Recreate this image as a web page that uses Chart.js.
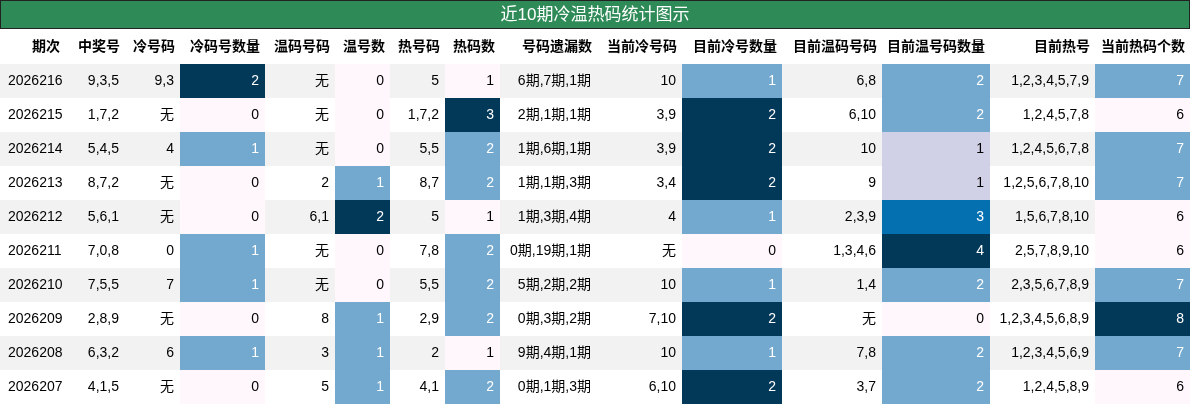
<!DOCTYPE html>
<html>
<head>
<meta charset="utf-8">
<script src="https://cdn.jsdelivr.net/npm/chart.js@4"></script>
<style>
  html, body { margin: 0; padding: 0; background: #fff; }
</style>
</head>
<body>
<canvas id="tbl" width="1192" height="405"></canvas>
<script>
// Table data, one array per column
const title = '近10期冷温热码统计图示';
const headers = ['期次', '中奖号', '冷号码', '冷码号数量', '温码号码', '温号数', '热号码', '热码数', '号码遗漏数', '当前冷号码', '目前冷号数量', '目前温码号码', '目前温号码数量', '目前热号', '当前热码个数'];
const periods = ['2026216', '2026215', '2026214', '2026213', '2026212', '2026211', '2026210', '2026209', '2026208', '2026207'];
const winning = ['9,3,5', '1,7,2', '5,4,5', '8,7,2', '5,6,1', '7,0,8', '7,5,5', '2,8,9', '6,3,2', '4,1,5'];
const coldNums = ['9,3', '无', '4', '无', '无', '0', '7', '无', '6', '无'];
const coldCount = [2, 0, 1, 0, 0, 1, 1, 0, 1, 0];
const warmNums = ['无', '无', '无', '2', '6,1', '无', '无', '8', '3', '5'];
const warmCount = [0, 0, 0, 1, 2, 0, 0, 1, 1, 1];
const hotNums = ['5', '1,7,2', '5,5', '8,7', '5', '7,8', '5,5', '2,9', '2', '4,1'];
const hotCount = [1, 3, 2, 2, 1, 2, 2, 2, 1, 2];
const missing = ['6期,7期,1期', '2期,1期,1期', '1期,6期,1期', '1期,1期,3期', '1期,3期,4期', '0期,19期,1期', '5期,2期,2期', '0期,3期,2期', '9期,4期,1期', '0期,1期,3期'];
const curCold = ['10', '3,9', '3,9', '3,4', '4', '无', '10', '7,10', '10', '6,10'];
const curColdCount = [1, 2, 2, 2, 1, 0, 1, 2, 1, 2];
const curWarm = ['6,8', '6,10', '10', '9', '2,3,9', '1,3,4,6', '1,4', '无', '7,8', '3,7'];
const curWarmCount = [2, 2, 1, 1, 3, 4, 2, 0, 2, 2];
const curHot = ['1,2,3,4,5,7,9', '1,2,4,5,7,8', '1,2,4,5,6,7,8', '1,2,5,6,7,8,10', '1,5,6,7,8,10', '2,5,7,8,9,10', '2,3,5,6,7,8,9', '1,2,3,4,5,6,8,9', '1,2,3,4,5,6,9', '1,2,4,5,8,9'];
const curHotCount = [7, 6, 7, 7, 6, 6, 7, 8, 7, 6];

const columns = [periods, winning, coldNums, coldCount, warmNums, warmCount, hotNums, hotCount,
  missing, curCold, curColdCount, curWarm, curWarmCount, curHot, curHotCount];
// column right edges on the x scale
const colEdges = [0, 65, 125, 180, 265, 335, 390, 445, 500, 597, 682, 782, 882, 990, 1095, 1190];
const heatCols = [3, 5, 7, 10, 12, 14];

// PuBu colour map
const pubu = ['#fff7fb', '#ece7f2', '#d0d1e6', '#a6bddb', '#74a9cf', '#3690c0', '#0570b0', '#045a8d', '#023858'];
function hex2rgb(h) { return [1, 3, 5].map(i => parseInt(h.substr(i, 2), 16)); }
function pubuColor(t) {
  const p = Math.max(0, Math.min(1, t)) * (pubu.length - 1);
  const i = Math.min(Math.floor(p), pubu.length - 2), f = p - i;
  const a = hex2rgb(pubu[i]), b = hex2rgb(pubu[i + 1]);
  return 'rgb(' + a.map((v, k) => Math.round(v + (b[k] - v) * f)).join(',') + ')';
}

const FONT = '"Liberation Sans", "Noto Sans CJK SC", sans-serif';

const tablePlugin = {
  id: 'tablePlugin',
  beforeDraw(chart) {
    const ctx = chart.ctx, x = chart.scales.x, y = chart.scales.y;
    const X = v => x.getPixelForValue(v);
    const Y = v => y.getPixelForValue(v);
    ctx.save();
    ctx.fillStyle = '#fff';
    ctx.fillRect(0, 0, chart.width, chart.height);

    // title bar
    ctx.fillStyle = '#2e8b57';
    ctx.fillRect(X(0), 0, X(1190) - X(0), 29);
    ctx.strokeStyle = '#222';
    ctx.lineWidth = 1;
    ctx.strokeRect(X(0) + 0.5, 0.5, X(1190) - X(0) - 1, 28);
    ctx.fillStyle = '#fff';
    ctx.font = '17px ' + FONT;
    ctx.textAlign = 'center';
    ctx.textBaseline = 'middle';
    ctx.fillText(title, (X(0) + X(1190)) / 2, 15);

    // header row
    ctx.fillStyle = '#000';
    ctx.font = 'bold 14px ' + FONT;
    ctx.textAlign = 'right';
    headers.forEach((h, c) => ctx.fillText(h, X(colEdges[c + 1]) - 5, 47));

    // data cells
    ctx.font = '14px ' + FONT;
    for (let r = 0; r < periods.length; r++) {
      const top = Y(r), bot = Y(r + 1);
      const bg = r % 2 === 0 ? '#f2f2f2' : '#ffffff';
      ctx.fillStyle = bg;
      ctx.fillRect(X(0), top, X(1190) - X(0), bot - top);
      columns.forEach((col, c) => {
        const l = X(colEdges[c]), rt = X(colEdges[c + 1]);
        let txt = '#000';
        if (heatCols.includes(c)) {
          const mn = Math.min(...col), mx = Math.max(...col);
          const t = (col[r] - mn) / (mx - mn);
          ctx.fillStyle = pubuColor(t);
          ctx.fillRect(l, top, rt - l, bot - top);
          if (t >= 0.5) txt = '#fff';
        }
        ctx.fillStyle = txt;
        if (c === 0) {
          ctx.textAlign = 'left';
          ctx.fillText(String(col[r]), l + 8, (top + bot) / 2);
        } else {
          ctx.textAlign = 'right';
          ctx.fillText(String(col[r]), rt - 6, (top + bot) / 2);
        }
      });
    }
    ctx.restore();
  }
};

new Chart(document.getElementById('tbl'), {
  type: 'scatter',
  data: { datasets: [{ data: [] }] },
  options: {
    responsive: false,
    animation: false,
    layout: { padding: { top: 64, bottom: 1, left: 0, right: 0 } },
    plugins: { legend: { display: false }, tooltip: { enabled: false } },
    scales: {
      x: { type: 'linear', min: 0, max: 1192, display: false },
      y: { type: 'linear', min: 0, max: 10, reverse: true, display: false }
    }
  },
  plugins: [tablePlugin]
});
</script>
</body>
</html>
